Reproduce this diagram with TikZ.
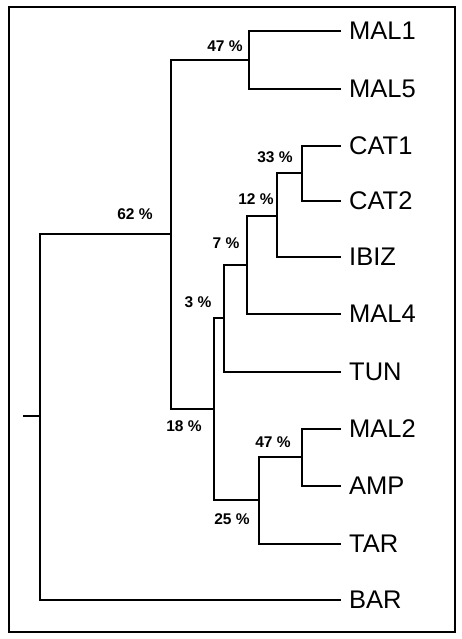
\documentclass[tikz,border=0pt]{standalone}
\usepackage{fontspec}
\setmainfont{Liberation Sans}
\begin{document}
\begin{tikzpicture}[x=1pt,y=-1pt,
  branch/.style={line width=1.1pt},
  leaf/.style={anchor=west,inner xsep=8pt,inner ysep=0pt,font=\fontsize{25.5}{25.5}\selectfont},
  pct/.style={font=\bfseries\fontsize{15.5}{15.5}\selectfont,inner sep=0pt}]
\useasboundingbox (0,0) rectangle (462,639);
\draw[line width=2pt] (9,7) rectangle (455,632);
% internal nodes
\coordinate (root0) at (23,416);
\coordinate (r) at (40,416);
\coordinate (n62) at (171,234);
\coordinate (n47a) at (249,60);
\coordinate (n18) at (214,409);
\coordinate (n3) at (224,318);
\coordinate (n7) at (247,265);
\coordinate (n12) at (277,216);
\coordinate (n33) at (302,173);
\coordinate (n25) at (259,500);
\coordinate (n47b) at (302,457);
% leaves
\node[leaf] (MAL1) at (341,31) {MAL1};
\node[leaf] (MAL5) at (341,89) {MAL5};
\node[leaf] (CAT1) at (341,146) {CAT1};
\node[leaf] (CAT2) at (341,201) {CAT2};
\node[leaf] (IBIZ) at (341,257) {IBIZ};
\node[leaf] (MAL4) at (341,314) {MAL4};
\node[leaf] (TUN) at (341,372) {TUN};
\node[leaf] (MAL2) at (341,429) {MAL2};
\node[leaf] (AMP) at (341,486) {AMP};
\node[leaf] (TAR) at (341,544) {TAR};
\node[leaf] (BAR) at (341,600) {BAR};
% branches
\draw[branch] (root0) -- (r);
\draw[branch] (r) |- (n62);
\draw[branch] (r) |- (BAR);
\draw[branch] (n62) |- (n47a);
\draw[branch] (n62) |- (n18);
\draw[branch] (n47a) |- (MAL1);
\draw[branch] (n47a) |- (MAL5);
\draw[branch] (n18) |- (n3);
\draw[branch] (n18) |- (n25);
\draw[branch] (n3) |- (n7);
\draw[branch] (n3) |- (TUN);
\draw[branch] (n7) |- (n12);
\draw[branch] (n7) |- (MAL4);
\draw[branch] (n12) |- (n33);
\draw[branch] (n12) |- (IBIZ);
\draw[branch] (n33) |- (CAT1);
\draw[branch] (n33) |- (CAT2);
\draw[branch] (n25) |- (n47b);
\draw[branch] (n25) |- (TAR);
\draw[branch] (n47b) |- (MAL2);
\draw[branch] (n47b) |- (AMP);
% support values
\node[pct] (p47a) at (225,46) {47 \%};
\node[pct] (p62) at (135,214) {62 \%};
\node[pct] (p33) at (275,157) {33 \%};
\node[pct] (p12) at (256,199) {12 \%};
\node[pct] (p7) at (226,243) {7 \%};
\node[pct] (p3) at (198,302) {3 \%};
\node[pct] (p18) at (184,426) {18 \%};
\node[pct] (p47b) at (273,442) {47 \%};
\node[pct] (p25) at (232,519) {25 \%};
\end{tikzpicture}
\end{document}
